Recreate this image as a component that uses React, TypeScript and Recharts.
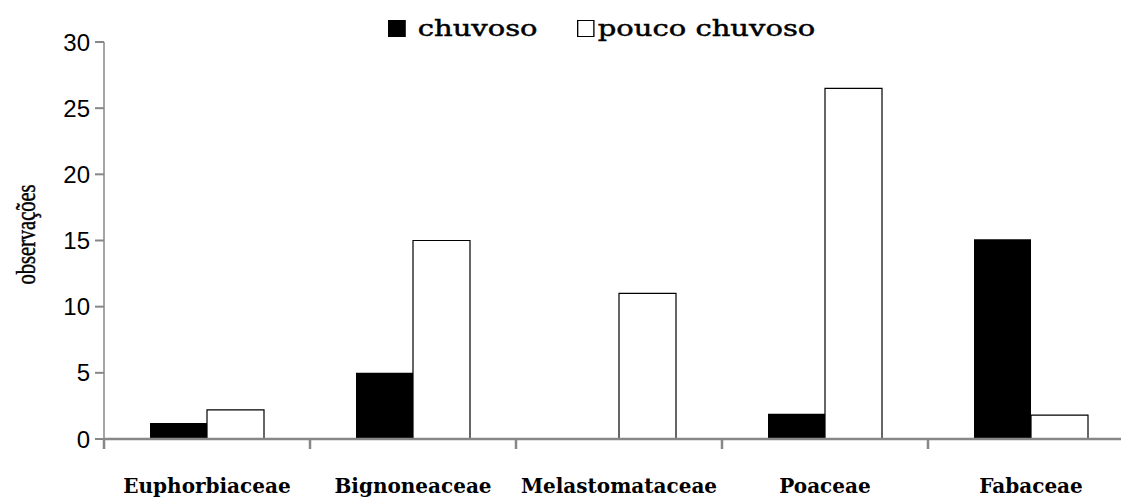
import React from 'react';
import { BarChart, Bar, XAxis, YAxis, Legend, Label } from 'recharts';

const categories = ['Euphorbiaceae', 'Bignoneaceae', 'Melastomataceae', 'Poaceae', 'Fabaceae'];
const chuvoso = [1.2, 5, 0, 1.9, 15.1];
const poucoChuvoso = [2.2, 15, 11, 26.5, 1.8];
const yTicks = [0, 5, 10, 15, 20, 25, 30];

const data = categories.map((name, i) => ({ name, chuvoso: chuvoso[i], pouco: poucoChuvoso[i] }));

const AXIS = '#878787';
const STRETCH = 1.35;

const XTick = (props: any) => {
  const { x, y, payload } = props;
  const half = payload && typeof payload.offset === 'number' ? payload.offset : 103;
  return (
    <g>
      <line x1={x - half} x2={x - half} y1={y} y2={y + 10} stroke={AXIS} strokeWidth={2.5} />
      <text
        x={x}
        y={y + 54}
        textAnchor="middle"
        fontFamily="DejaVu Serif"
        fontWeight="bold"
        fontSize={20}
        fill="#000"
      >
        {payload.value}
      </text>
    </g>
  );
};

const YLabel = (props: any) => {
  const vb = props.viewBox || { x: 0, y: 42, width: 104, height: 397 };
  const x = vb.x + 35;
  const y = vb.y + vb.height / 2 - 6;
  return (
    <text
      x={0}
      y={0}
      transform={`translate(${x} ${y}) rotate(-90) scale(1 ${STRETCH})`}
      textAnchor="middle"
      fontFamily="Liberation Serif"
      fontSize={20.5}
      fill="#000"
      stroke="#000"
      strokeWidth={0.35}
    >
      observações
    </text>
  );
};

const LegendContent = (props: any) => {
  const payload = props.payload || [];
  return (
    <div
      style={{
        display: 'flex',
        alignItems: 'center',
        fontFamily: 'DejaVu Serif',
        fontSize: 21.5,
        color: '#000',
        whiteSpace: 'nowrap',
        WebkitTextStroke: '0.45px #000',
        transform: `scaleX(${STRETCH})`,
        transformOrigin: 'left center',
      }}
    >
      {payload.map((p: any, i: number) => (
        <div key={i} style={{ display: 'flex', alignItems: 'center', marginRight: i === 0 ? 29 : 0 }}>
          <span
            style={{
              display: 'inline-block',
              width: 13,
              height: 17,
              boxSizing: 'border-box',
              background: p.color,
              border: '1.5px solid #000',
              marginRight: i === 0 ? 9 : 2.5,
            }}
          />
          <span>{p.value}</span>
        </div>
      ))}
    </div>
  );
};

export default function App() {
  return (
    <div style={{ position: 'absolute', left: 0, top: 0, width: 1121, height: 501, background: '#fff' }}>
      <BarChart
        width={1121}
        height={501}
        data={data}
        margin={{ top: 42, right: -13, bottom: 12, left: 0 }}
        barSize={57}
        barGap={0}
      >
        <XAxis
          dataKey="name"
          height={50}
          interval={0}
          tickSize={0}
          tickMargin={0}
          tickLine={false}
          axisLine={{ stroke: AXIS, strokeWidth: 2.5 }}
          tick={<XTick />}
        />
        <YAxis
          width={104}
          domain={[0, 30]}
          ticks={yTicks}
          interval={0}
          tickSize={9}
          tickMargin={5}
          axisLine={{ stroke: AXIS, strokeWidth: 1.5 }}
          tickLine={{ stroke: AXIS, strokeWidth: 2 }}
          tick={{ fontFamily: 'Liberation Sans', fontSize: 24, fill: '#000' }}
        >
          <Label content={<YLabel />} />
        </YAxis>
        <Legend
          layout="horizontal"
          verticalAlign="middle"
          align="center"
          wrapperStyle={{ top: 16, left: 388, width: 'auto', right: 'auto', bottom: 'auto' }}
          content={<LegendContent />}
        />
        <Bar dataKey="chuvoso" name="chuvoso" fill="#000" isAnimationActive={false} />
        <Bar dataKey="pouco" name="pouco chuvoso" fill="#fff" stroke="#000" strokeWidth={1.2} isAnimationActive={false} />
      </BarChart>
    </div>
  );
}
